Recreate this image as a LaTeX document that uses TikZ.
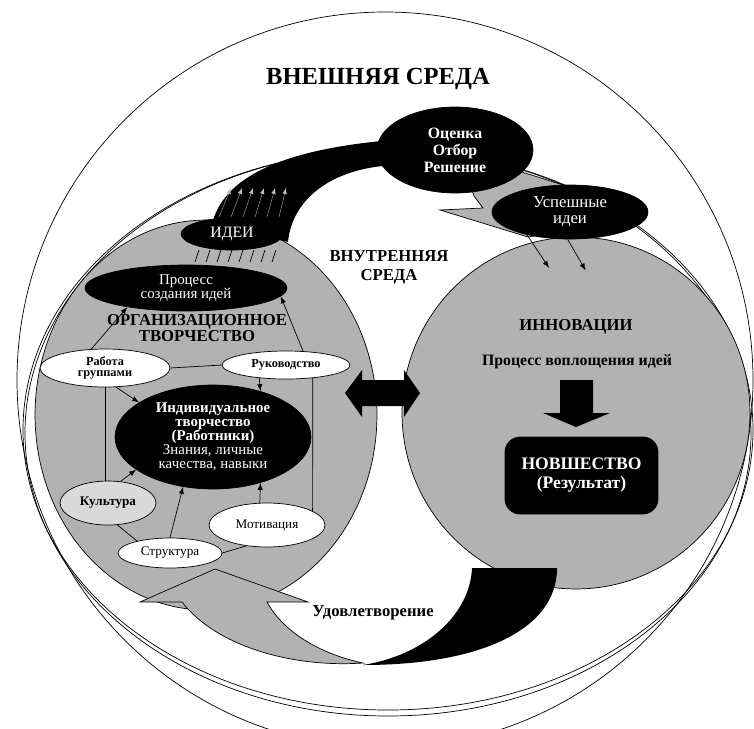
\documentclass[tikz,border=0pt]{standalone}
\usepackage{fontspec}
\setmainfont{Liberation Serif}
\usetikzlibrary{shapes.geometric,positioning}

\definecolor{circgray}{gray}{0.70}
\definecolor{cultgray}{gray}{0.85}

\newcommand{\fs}[2]{\fontsize{#1}{#2}\selectfont}

\begin{document}
\begin{tikzpicture}[x=0.02cm, y=-0.02cm, thin, >=latex, nodes = {align = center}]

  \tikzstyle{blackoval}=[draw, ellipse, fill=black, text=white, inner sep=0pt]
  \tikzstyle{whiteoval}=[draw, ellipse, fill=white, inner sep=0pt, font=\fs{7.5}{8}]
  \tikzstyle{bigcirc}=[draw, ellipse, fill=circgray, inner sep=0pt]
  \tikzstyle{heading}=[font=\bfseries\fs{9.5}{10.8}]
  \tikzstyle{grayband}=[fill=circgray, draw=black]

  \useasboundingbox (0,0) rectangle (754,728);

  % environment
  \begin{scope}
    \clip (0,0) rectangle (754,728);
    \draw (385,380) circle [radius=368];
  \end{scope}
  \draw (388,430) ellipse [x radius=365, y radius=280];
  \draw (388,433) ellipse [x radius=363, y radius=283];

  \node[bigcirc, minimum width=6.84cm, minimum height=7.8cm] (orgcirc) at (206,415) {};
  \node[bigcirc, minimum width=6.96cm, minimum height=7.04cm] (innocirc) at (576,413) {};

  % ideas -> evaluation
  \fill (212,224) .. controls (225,170) and (300,148) .. (392,140) -- (395,165)
    .. controls (330,168) and (292,200) .. (288,242) -- cycle;
  \foreach \i in {0,...,5}
    \draw[->, gray!50, very thin] (219+12*\i, 217) -- (231+11*\i, 188);

  \draw[grayband] (470,185) -- (474,196) -- (483,208) -- (440,210) -- (528,237)
    -- (600,225) -- (563,185) -- (522,172) -- cycle;

  % satisfaction
  \fill (472,568) -- (557,568) .. controls (557,630) and (480,665) .. (363,665)
    .. controls (425,655) and (470,615) .. (472,568) -- cycle;
  \draw[grayband] (182,602) -- (140,602) -- (215,569) -- (308,602) -- (267,602)
    .. controls (285,635) and (325,655) .. (363,663)
    .. controls (290,668) and (215,645) .. (182,602) -- cycle;

  \fill (345,393) -- (362,370) -- (362,380) -- (404,380) -- (404,370) -- (420,393)
    -- (404,417) -- (404,406) -- (362,406) -- (362,417) -- cycle;
  \fill (560,380) -- (593,380) -- (593,413) -- (610,413) -- (576,427) -- (543,413)
    -- (560,413) -- cycle;

  \node[blackoval, minimum width=3.12cm, minimum height=1.72cm, font=\bfseries\fs{9}{9.6}] (ocenka) at (455,150) {Оценка\\Отбор\\Решение};
  \node[blackoval, minimum width=3.12cm, minimum height=1.08cm, font=\fs{9.5}{9.2}] (uspeh) at (570,212) {Успешные\\идеи};
  \node[blackoval, minimum width=2.04cm, minimum height=0.64cm, font=\fs{9}{10}] (idei) at (232,234) {ИДЕИ};
  \node[blackoval, minimum width=4.04cm, minimum height=0.92cm, font=\fs{8.5}{8}] (process) at (186,288) {Процесс\\создания идей};

  \node[whiteoval, minimum width=2.6cm, minimum height=0.76cm, font=\bfseries\fs{7}{6.5}] (rabota) at (105,368) {Работа\\группами};
  \node[whiteoval, minimum width=2.56cm, minimum height=0.56cm, font=\bfseries\fs{7}{8}] (rukov) at (286,365) {Руководство};
  \node[blackoval, minimum width=3.92cm, minimum height=2.08cm, font=\bfseries\fs{8.5}{8}] (indiv) at (213,437)
    {Индивидуальное\\творчество\\(Работники)\\\mdseries Знания, личные\\\mdseries качества, навыки};
  \node[whiteoval, fill=cultgray, minimum width=1.92cm, minimum height=0.88cm, font=\bfseries\fs{7.5}{8}] (kult) at (108,503) {Культура};
  \node[whiteoval, minimum width=2.32cm, minimum height=0.88cm] (motiv) at (267,525) {Мотивация};
  \node[whiteoval, minimum width=2.08cm, minimum height=0.6cm] (strukt) at (170,553) {Структура};

  \node[draw, fill=black, text=white, rounded corners=0.3cm, minimum width=3.06cm, minimum height=1.54cm, font=\bfseries\fs{10}{10.8}] (novsh) at (581.5,475.5) {НОВШЕСТВО\\(Результат)};

  \node[font=\bfseries\fs{14}{16}] (vneshn) at (378,79) {ВНЕШНЯЯ СРЕДА};
  \node[heading] (vnutr) at (389,267) {ВНУТРЕННЯЯ\\СРЕДА};
  \node[heading, font=\bfseries\fs{9.5}{9.6}] (orgtv) at (197,328) {ОРГАНИЗАЦИОННОЕ\\ТВОРЧЕСТВО};
  \node[heading] (innov) at (576,327) {ИННОВАЦИИ};
  \node[heading, font=\bfseries\fs{9}{10}] (voplosh) at (577,362) {Процесс воплощения идей};
  \node[heading] (udovl) at (373,613) {Удовлетворение};

  % links inside organisational creativity
  \draw[->] (rabota.126) -- (process.198);
  \draw[->] (rukov.39) -- (process.-5);
  \draw (rabota.east) -- (rukov.west);
  \draw[->] (rabota.-60) -- (indiv.155);
  \draw[->] (rukov.206) -- (indiv.44);
  \draw (rukov.-26) -- (motiv.17);
  \draw (rabota.south) -- (rabota.south |- kult.north);
  \draw[->] (kult.60) -- (indiv.203);
  \draw (kult.-67) -- (strukt.160);
  \draw[->] (strukt.north) -- (indiv.239);
  \draw (strukt.east) -- (motiv.225);
  \draw[->] (motiv.108) -- (indiv.-44);

  \foreach \i in {0,...,7}
    \draw (195+11*\i, 262) -- (199+11*\i, 250);

  \draw[->] (uspeh.208) -- ++(22,33);
  \draw[->] (uspeh.265) -- ++(18,31);
\end{tikzpicture}
\end{document}
